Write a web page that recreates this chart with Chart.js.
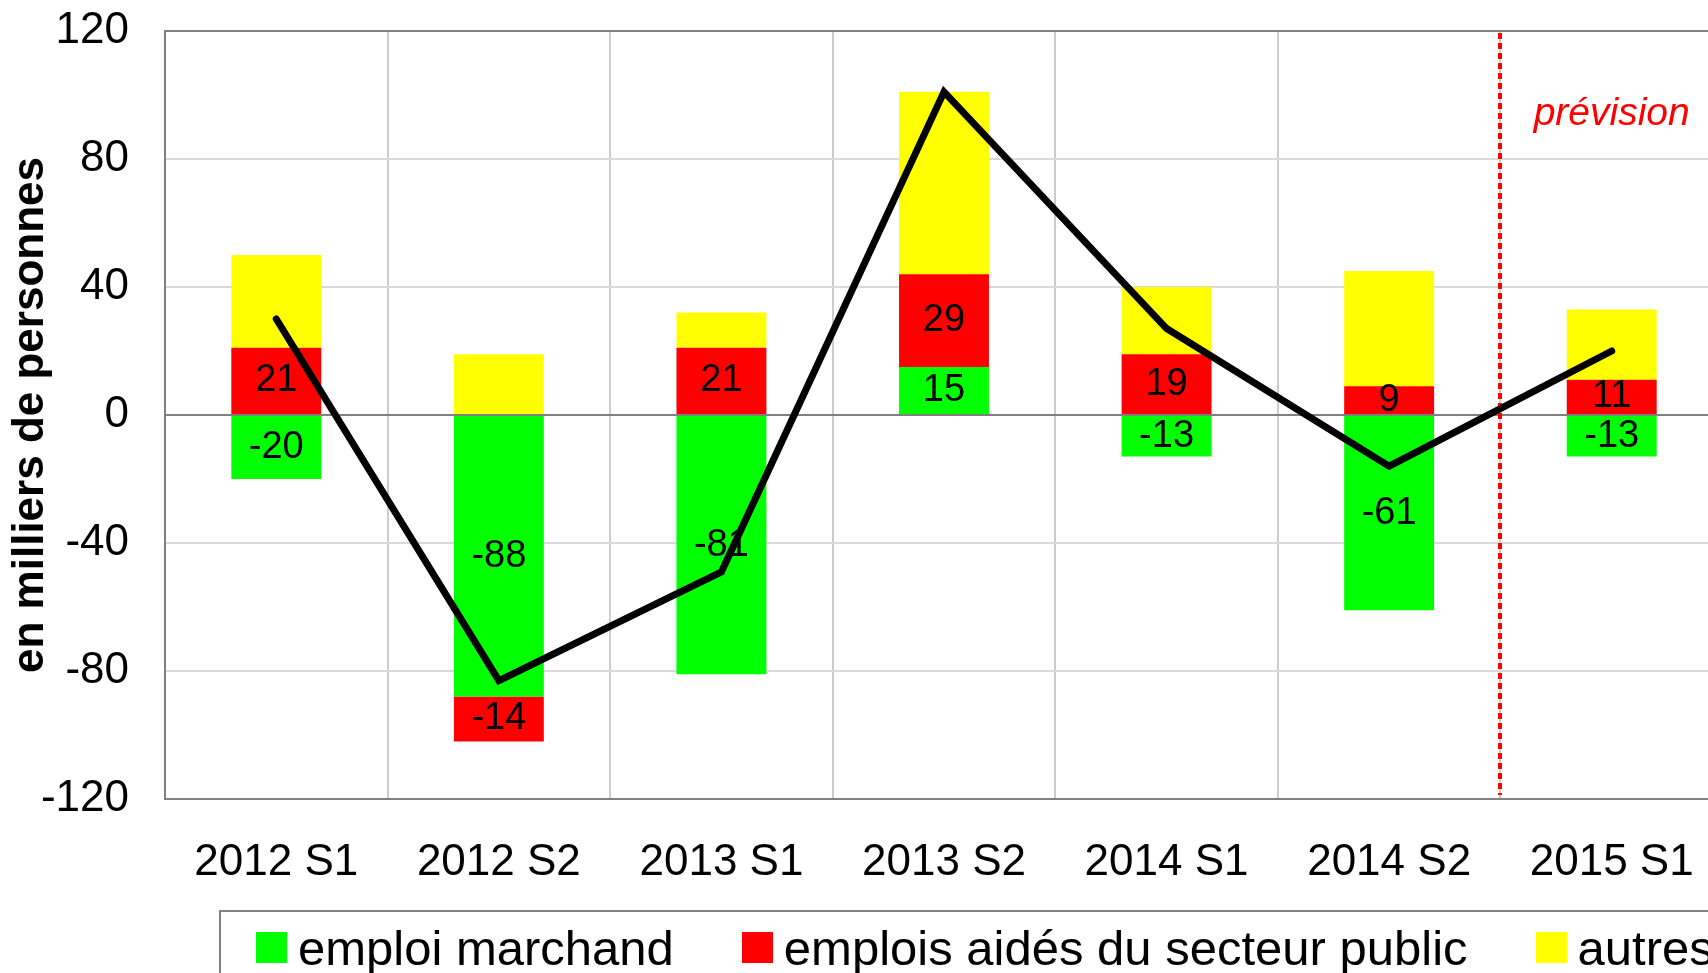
<!DOCTYPE html>
<html lang="fr">
<head>
<meta charset="utf-8">
<title>Emploi - contributions semestrielles</title>
<script src="https://cdn.jsdelivr.net/npm/chart.js@4.4.1/dist/chart.umd.min.js"></script>
<style>
    html, body { margin: 0; padding: 0; overflow: hidden; background: #fff; }
    #wrap { position: relative; width: 1740px; height: 973px; }
    #legend {
        position: absolute;
        left: 219px;
        top: 910px;
        width: 1600px;
        height: 120px;
        border-top: 2px solid #808080;
        border-left: 2px solid #808080;
        padding-left: 35px;
        box-sizing: border-box;
        display: flex;
        align-items: flex-start;
        font-family: "Liberation Sans", Arial, sans-serif;
        font-size: 49px;
        color: #000;
        white-space: nowrap;
    }
    #legend .item { display: flex; align-items: center; height: 71px; margin-right: 68px; }
    #legend .box { width: 31px; height: 31px; margin-right: 11px; }
</style>
</head>
<body>
<div id="wrap">
    <canvas id="chart" width="1740" height="973"></canvas>
    <div id="legend"></div>
</div>
<script>
const categories = ['2012 S1', '2012 S2', '2013 S1', '2013 S2', '2014 S1', '2014 S2', '2015 S1'];
const emploiMarchand = [-20, -88, -81, 15, -13, -61, -13];
const emploisAides = [21, -14, 21, 29, 19, 9, 11];
const autres = [29, 19, 11, 57, 21, 36, 22];
const total = [30, -83, -49, 101, 27, -16, 20];
const yTicks = [-120, -80, -40, 0, 40, 80, 120];
const forecastStart = '2015 S1';

const FONT = '"Liberation Sans", Arial, sans-serif';
Chart.defaults.font.family = FONT;
Chart.defaults.color = '#000';

// valeurs dans les barres (vert et rouge seulement)
const barLabels = {
    id: 'barLabels',
    afterDatasetDraw(chart, args) {
        const ds = chart.data.datasets[args.index];
        if (!ds.showValues) {
            return;
        }
        const ctx = chart.ctx;
        ctx.save();
        ctx.font = '38px ' + FONT;
        ctx.fillStyle = '#000';
        ctx.textAlign = 'center';
        ctx.textBaseline = 'middle';
        args.meta.data.forEach((bar, i) => {
            ctx.fillText(String(ds.data[i]), bar.x, (bar.y + bar.base) / 2);
        });
        ctx.restore();
    }
};

// ligne pointillée rouge + "prévision"
const forecastMarker = {
    id: 'forecastMarker',
    beforeDatasetsDraw(chart) {
        const { ctx, chartArea, scales } = chart;
        const idx = categories.indexOf(forecastStart);
        const xPos = Math.round((scales.x.getPixelForValue(idx - 1) + scales.x.getPixelForValue(idx)) / 2);
        ctx.save();
        ctx.strokeStyle = '#ff0000';
        ctx.lineWidth = 4;
        ctx.setLineDash([6, 4]);
        ctx.beginPath();
        ctx.moveTo(xPos, chartArea.top + 2);
        ctx.lineTo(xPos, chartArea.bottom - 4);
        ctx.stroke();
        ctx.setLineDash([]);
        ctx.font = 'italic 39px ' + FONT;
        ctx.fillStyle = '#ff0000';
        ctx.textAlign = 'center';
        ctx.textBaseline = 'middle';
        ctx.fillText('prévision', scales.x.getPixelForValue(idx), scales.y.getPixelForValue(94));
        ctx.restore();
    }
};

const chart = new Chart(document.getElementById('chart'), {
    type: 'bar',
    data: {
        labels: categories,
        datasets: [
            {
                label: 'emploi marchand',
                data: emploiMarchand,
                backgroundColor: '#00ff00',
                showValues: true,
                order: 1
            },
            {
                label: 'emplois aidés du secteur public',
                data: emploisAides,
                backgroundColor: '#ff0000',
                showValues: true,
                order: 1
            },
            {
                label: 'autres',
                data: autres,
                backgroundColor: '#ffff00',
                order: 1
            },
            {
                type: 'line',
                label: 'total',
                data: total,
                stack: 'total',
                borderColor: '#000',
                backgroundColor: '#000',
                borderWidth: 7,
                borderCapStyle: 'round',
                pointRadius: 0,
                tension: 0,
                order: 0,
                hideInLegend: true
            }
        ]
    },
    options: {
        responsive: false,
        animation: false,
        layout: { padding: { left: 0, top: 31, right: 17, bottom: 0 } },
        datasets: {
            bar: { barPercentage: 0.404, categoryPercentage: 1 }
        },
        plugins: {
            legend: { display: false },
            tooltip: { enabled: false }
        },
        scales: {
            x: {
                stacked: true,
                grid: {
                    color: '#cccccc',
                    lineWidth: 2,
                    drawTicks: false
                },
                border: { color: '#808080', width: 2 },
                ticks: {
                    font: { size: 44 },
                    color: '#000',
                    padding: 37
                },
                afterFit: (scale) => {
                    scale.height = 174;
                    scale.paddingLeft = 0;
                    scale.paddingRight = 0;
                }
            },
            y: {
                stacked: true,
                min: yTicks[0],
                max: yTicks[yTicks.length - 1],
                afterBuildTicks: (scale) => {
                    scale.ticks = yTicks.map(v => ({ value: v }));
                },
                grid: {
                    color: (c) => (c.tick && (c.tick.value === 0 || c.tick.value === 120)) ? '#808080' : '#d9d9d9',
                    lineWidth: 2,
                    drawTicks: false
                },
                border: { color: '#808080', width: 2 },
                ticks: {
                    font: { size: 44 },
                    color: '#000',
                    padding: 36
                },
                title: {
                    display: true,
                    text: 'en milliers de personnes',
                    font: { size: 44, weight: 'bold' },
                    color: '#000',
                    padding: { top: 4, bottom: 0 }
                },
                afterFit: (scale) => {
                    scale.width = 165;
                    scale.paddingTop = 0;
                    scale.paddingBottom = 0;
                }
            }
        }
    },
    plugins: [barLabels, forecastMarker]
});

// légende HTML
const legendEl = document.getElementById('legend');
chart.data.datasets.filter(ds => !ds.hideInLegend).forEach(ds => {
    const item = document.createElement('div');
    item.className = 'item';
    const box = document.createElement('span');
    box.className = 'box';
    box.style.background = ds.backgroundColor;
    const txt = document.createElement('span');
    txt.textContent = ds.label;
    item.appendChild(box);
    item.appendChild(txt);
    legendEl.appendChild(item);
});
</script>
</body>
</html>
